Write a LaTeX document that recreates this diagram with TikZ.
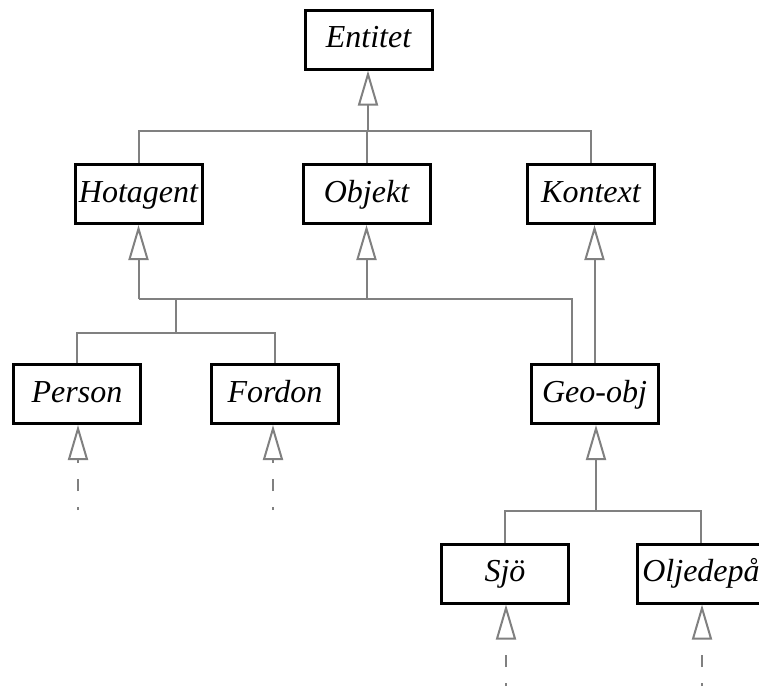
\documentclass[tikz,border=0pt]{standalone}
\usepackage{fontspec}
\setmainfont{Liberation Serif}
\usetikzlibrary{arrows.meta}

\tikzset{
  cls/.style={draw=black, line width=3pt, fill=white,
    minimum width=127pt, minimum height=59pt, inner sep=0pt,
    text height=23pt, text depth=7pt,
    font=\fontsize{32}{38}\selectfont\itshape},
  link/.style={draw=gray, line width=2pt},
  gen/.style={link, -{Triangle[open, length=35pt, width=20pt]}},
  more/.style={gen, dash pattern=on 12pt off 16pt, dash phase=9pt},
}

\begin{document}
\begin{tikzpicture}[x=1pt, y=-1pt]
  \useasboundingbox (0,0) rectangle (759,686);
  \clip (0,0) rectangle (759,686);

  % classes
  \node[cls] (ent) at (368.5,39.5) {Entitet};
  \node[cls] (hot) at (138.5,194) {Hotagent};
  \node[cls] (obj) at (366.5,194) {Objekt};
  \node[cls] (kon) at (591,194) {Kontext};
  \node[cls] (per) at (77,394) {Person};
  \node[cls] (for) at (275,394) {Fordon};
  \node[cls] (geo) at (594.5,394) {Geo-obj};
  \node[cls] (sjo) at (505,573.5) {Sjö};
  \node[cls] (olj) at (701,573.5) {Oljedepå};

  % branch points
  \coordinate (top) at (368,131);
  \coordinate (bus) at (176,299);
  \coordinate (split) at (176,333);
  \coordinate (geoL) at ([xshift=-22.5pt]geo.north);
  \coordinate (split2) at (596,511);

  % Entitet and its subclasses
  \draw[gen] (top) -- (top |- ent.south);
  \draw[link] (hot.north) |- (top) -| (kon.north);
  \draw[link] (obj.north) -- (obj.north |- top);

  % Hotagent / Objekt and their subclasses
  \draw[link] (hot.south |- bus) -| (geoL);
  \draw[gen] (hot.south |- bus) -- (hot.south);
  \draw[gen] (obj.south |- bus) -- (obj.south);
  \draw[link] (bus) -- (split);
  \draw[link] (per.north) |- (split) -| (for.north);

  % Geo-obj is also a Kontext
  \draw[gen] (geo.north) -- (geo.north |- kon.south);

  % Geo-obj and its subclasses
  \draw[gen] (split2) -- (split2 |- geo.south);
  \draw[link] (sjo.north) |- (split2) -| (olj.north);

  % further subclasses
  \coordinate (m1) at (78,510);
  \coordinate (m2) at (273,510);
  \coordinate (m3) at (506,686);
  \coordinate (m4) at (702,686);
  \draw[more] (m1) -- (m1 |- per.south);
  \draw[more] (m2) -- (m2 |- for.south);
  \draw[more] (m3) -- (m3 |- sjo.south);
  \draw[more] (m4) -- (m4 |- olj.south);
\end{tikzpicture}
\end{document}
